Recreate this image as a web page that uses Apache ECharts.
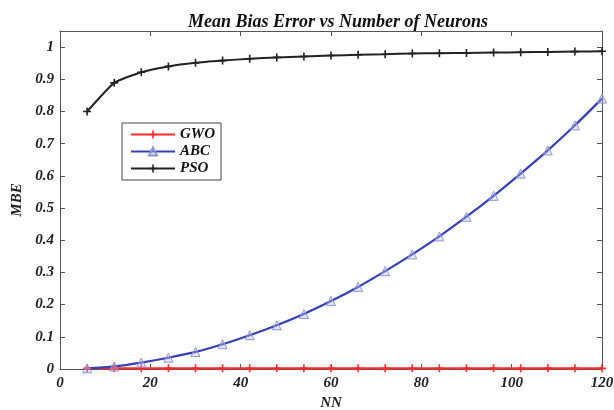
<!DOCTYPE html>
<html>
<head>
<meta charset="utf-8">
<script src="https://cdn.jsdelivr.net/npm/echarts@6/dist/echarts.min.js"></script>
<style>
  html, body { margin: 0; padding: 0; background: #fff; }
  #chart { width: 614px; height: 410px; }
</style>
</head>
<body>
<div id="chart"></div>
<script>
// number of neurons
var nn = [6, 12, 18, 24, 30, 36, 42, 48, 54, 60, 66, 72, 78, 84, 90, 96, 102, 108, 114, 120];
var gwo = [0.002, 0.002, 0.002, 0.002, 0.002, 0.002, 0.002, 0.002, 0.002, 0.002,
           0.002, 0.002, 0.002, 0.002, 0.002, 0.002, 0.002, 0.002, 0.002, 0.002];
var abc = [0.002, 0.008, 0.02, 0.035, 0.053, 0.077, 0.105, 0.136, 0.171, 0.211,
           0.255, 0.304, 0.356, 0.412, 0.473, 0.538, 0.607, 0.679, 0.757, 0.840];
var pso = [0.800, 0.889, 0.922, 0.940, 0.951, 0.958, 0.964, 0.968, 0.971, 0.974,
           0.976, 0.978, 0.980, 0.981, 0.982, 0.983, 0.984, 0.985, 0.986, 0.987];

function pairs(ys) {
  return nn.map(function (x, i) { return [x, ys[i]]; });
}

var font = 'Liberation Serif';
var plus = 'path://M4,0h2v4h4v2h-4v4h-2v-4h-4v-2h4z';

var tickLabel = {
  fontFamily: font, fontStyle: 'italic', fontWeight: 'bold', fontSize: 15, color: '#222'
};
var frame = { show: true, onZero: false, lineStyle: { color: '#555', width: 1 } };
var ticks = { inside: true, length: 5, lineStyle: { color: '#555' } };

var chart = echarts.init(document.getElementById('chart'));
chart.setOption({
  animation: false,
  title: {
    text: 'Mean Bias Error vs Number of Neurons',
    left: 333, top: 8, textAlign: 'center',
    textStyle: { fontFamily: font, fontStyle: 'italic', fontWeight: 'bold', fontSize: 18, color: '#111' }
  },
  grid: { left: 60, right: 12, top: 31, bottom: 41, outerBoundsMode: 'none' },
  legend: {
    orient: 'vertical', left: 122, top: 123,
    backgroundColor: '#fff', borderColor: '#444', borderWidth: 1,
    padding: [4, 6, 4, 8], itemGap: 2, itemWidth: 44, itemHeight: 10,
    textStyle: { fontFamily: font, fontStyle: 'italic', fontWeight: 'bold', fontSize: 15, color: '#111' },
    data: ['GWO', 'ABC', 'PSO']
  },
  xAxis: [{
    type: 'value', min: 0, max: 120, interval: 20,
    name: 'NN', nameLocation: 'middle', nameGap: 21,
    nameTextStyle: { fontFamily: font, fontStyle: 'italic', fontWeight: 'bold', fontSize: 15, color: '#222' },
    axisLine: frame, axisTick: ticks,
    axisLabel: Object.assign({ margin: 7 }, tickLabel),
    splitLine: { show: false }
  }, {
    type: 'value', position: 'top', min: 0, max: 120, interval: 20,
    axisLine: frame, axisTick: ticks,
    axisLabel: { show: false }, splitLine: { show: false }
  }],
  yAxis: [{
    type: 'value', min: 0, max: 1.05, interval: 0.1,
    name: 'MBE', nameLocation: 'middle', nameGap: 33, nameRotate: 90,
    nameTextStyle: { fontFamily: font, fontStyle: 'italic', fontWeight: 'bold', fontSize: 15, color: '#222' },
    axisLine: frame, axisTick: ticks,
    axisLabel: Object.assign({
      margin: 6,
      formatter: function (v) { return v > 1.001 ? '' : String(+v.toFixed(1)); }
    }, tickLabel),
    splitLine: { show: false }
  }, {
    type: 'value', position: 'right', min: 0, max: 1.05, interval: 0.1,
    axisLine: frame, axisTick: ticks,
    axisLabel: { show: false }, splitLine: { show: false }
  }],
  series: [{
    name: 'GWO', type: 'line', data: pairs(gwo),
    symbol: plus, symbolSize: 8,
    lineStyle: { color: '#ff2a2a', width: 2.2 },
    itemStyle: { color: '#ff2a2a' }
  }, {
    name: 'ABC', type: 'line', data: pairs(abc), smooth: 0.3,
    symbol: 'triangle', symbolSize: 9,
    lineStyle: { color: '#3340b8', width: 2.2 },
    itemStyle: { color: 'rgba(180,185,235,0.35)', borderColor: '#8d95d8', borderWidth: 1 }
  }, {
    name: 'PSO', type: 'line', data: pairs(pso), smooth: 0.15,
    symbol: plus, symbolSize: 8,
    lineStyle: { color: '#222', width: 2 },
    itemStyle: { color: '#222' }
  }]
});
</script>
</body>
</html>
